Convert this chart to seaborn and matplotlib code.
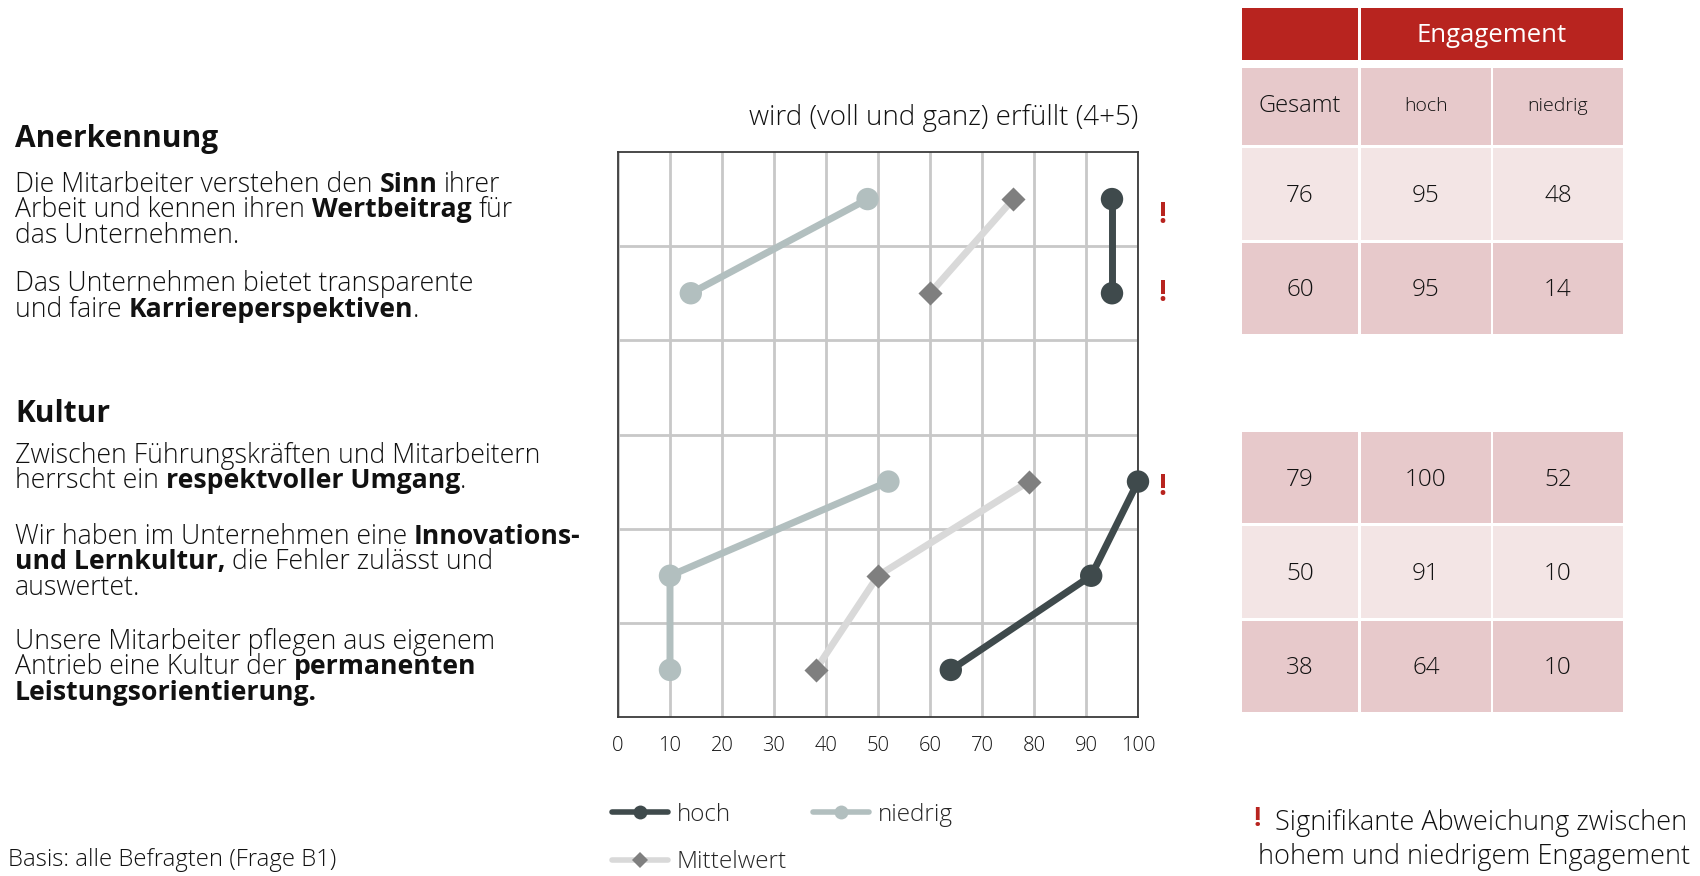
import pandas as pd
import numpy as np
import matplotlib.pyplot as plt
import seaborn as sns
from matplotlib.patches import Rectangle
from matplotlib.lines import Line2D
from matplotlib.font_manager import FontProperties

# data
pos = [0, 1, 3, 4, 5]
block = ['Anerkennung', 'Anerkennung', 'Kultur', 'Kultur', 'Kultur']
gesamt = [76, 60, 79, 50, 38]
hoch = [95, 95, 100, 91, 64]
niedrig = [48, 14, 52, 10, 10]
signifikant = [True, True, True, False, False]
x_ticks = [0, 10, 20, 30, 40, 50, 60, 70, 80, 90, 100]
header_cols = ['Gesamt', 'hoch', 'niedrig']

# left text: (y, [(text, bold)])
headings = [(139, 'Anerkennung'), (414, 'Kultur')]
body = [
    (185, [('Die Mitarbeiter verstehen den ', False), ('Sinn', True), (' ihrer', False)]),
    (210, [('Arbeit und kennen ihren ', False), ('Wertbeitrag', True), (' für', False)]),
    (236, [('das Unternehmen.', False)]),
    (284, [('Das Unternehmen bietet transparente', False)]),
    (310, [('und faire ', False), ('Karriereperspektiven', True), ('.', False)]),
    (456, [('Zwischen Führungskräften und Mitarbeitern', False)]),
    (481, [('herrscht ein ', False), ('respektvoller Umgang', True), ('.', False)]),
    (537, [('Wir haben im Unternehmen eine ', False), ('Innovations-', True)]),
    (562, [('und Lernkultur,', True), (' die Fehler zulässt und', False)]),
    (588, [('auswertet.', False)]),
    (642, [('Unsere Mitarbeiter pflegen aus eigenem', False)]),
    (667, [('Antrieb eine Kultur der ', False), ('permanenten', True)]),
    (693, [('Leistungsorientierung.', True)]),
]

FONT = 'Open Sans'
W = 'light'
DARK = '#3f4a4c'
LIGHT = '#b2bfbf'
MW_LINE = '#d9d9d9'
MW_MARK = '#7f7f7f'
RED = '#b8241f'
PINK = '#e7c9cb'
PALE = '#f3e5e5'
INK = '#111111'

sns.set_style('white')
plt.rcParams['font.family'] = [FONT, 'DejaVu Sans']

rows = []
for name, vals in [('hoch', hoch), ('niedrig', niedrig), ('Mittelwert', gesamt)]:
    for p, b, v in zip(pos, block, vals):
        rows.append({'gruppe': name, 'block': b, 'y': p + 0.5, 'wert': v})
long = pd.DataFrame(rows)

fig = plt.figure(figsize=(17, 8.76), dpi=100)

# overlay in pixel coordinates for text and table
ov = fig.add_axes([0, 0, 1, 1])
ov.set_xlim(0, 1700)
ov.set_ylim(876, 0)
ov.axis('off')

ax = fig.add_axes([618 / 1700, 1 - 717 / 876, 520 / 1700, 565 / 876])
ax.set_zorder(2)

sns.lineplot(data=long, x='wert', y='y', hue='gruppe', units='block', estimator=None, sort=False,
             palette={'hoch': DARK, 'niedrig': LIGHT, 'Mittelwert': MW_LINE},
             linewidth=5, legend=False, ax=ax, zorder=2)
circ = long[long['gruppe'] != 'Mittelwert']
sns.scatterplot(data=circ, x='wert', y='y', hue='gruppe', palette={'hoch': DARK, 'niedrig': LIGHT},
                s=260, linewidth=0, legend=False, clip_on=False, zorder=3, ax=ax)
mw = long[long['gruppe'] == 'Mittelwert']
sns.scatterplot(data=mw, x='wert', y='y', color=MW_MARK, marker='D', s=150, linewidth=0,
                legend=False, clip_on=False, zorder=3, ax=ax)

# exclamation marks sit a little below the row centre in the original
excl_shift = {0: 0.17, 1: 0.0, 3: 0.06}
for p, sig in zip(pos, signifikant):
    if sig:
        ax.text(104.6, p + 0.5 + excl_shift.get(p, 0), '!', color=RED, fontsize=20, fontweight='bold',
                ha='center', va='center', clip_on=False)

ax.set_xlim(0, 100)
ax.set_ylim(6, 0)
ax.set_xticks(x_ticks)
ax.set_xticklabels([str(t) for t in x_ticks], fontsize=14.5, fontweight=W, color=INK)
ax.set_yticks([1, 2, 3, 4, 5])
ax.set_yticklabels([])
ax.tick_params(length=0)
ax.tick_params(axis='x', pad=14)
ax.grid(True, color='#c8c8c8', linewidth=2)
ax.set_xlabel('')
ax.set_ylabel('')
for sp in ax.spines.values():
    sp.set_color('#3a3a3a')
    sp.set_linewidth(1.3)

ov.text(1138, 118, 'wird (voll und ganz) erfüllt (4+5)', fontsize=20, fontweight=W,
        ha='right', va='center', color=INK)

# left text with mixed weights
renderer = fig.canvas.get_renderer()


def text_w(s, weight, size):
    prop = FontProperties(family=FONT, weight=weight, size=size)
    w, h, d = renderer.get_text_width_height_descent(s, prop, ismath=False)
    return w


for y, txt in headings:
    ov.text(15, y, txt, fontsize=21.5, fontweight='bold', va='center', ha='left', color=INK)

BODY = 19.2
space_w = text_w('a a', W, BODY) - text_w('aa', W, BODY)
for y, parts in body:
    x = 15
    for txt, bold in parts:
        wt = 'bold' if bold else W
        x += (len(txt) - len(txt.lstrip(' '))) * space_w
        core = txt.strip(' ')
        ov.text(x, y, core, fontsize=BODY, fontweight=wt, va='center', ha='left', color=INK)
        x += text_w(core, wt, BODY)
        x += (len(txt) - len(txt.rstrip(' '))) * space_w

# table
col_x = [1242, 1361, 1493]
col_w = [116, 130, 130]
ov.add_patch(Rectangle((1242, 8), 116, 52, color=RED, lw=0))
ov.add_patch(Rectangle((1361, 8), 262, 52, color=RED, lw=0))
ov.text(1492, 36, 'Engagement', fontsize=18.5, color='white', ha='center', va='center')
for i, lab in enumerate(header_cols):
    ov.add_patch(Rectangle((col_x[i], 68), col_w[i], 77, color=PINK, lw=0))
    ov.text(col_x[i] + col_w[i] / 2, 106, lab, fontsize=17 if i == 0 else 14, fontweight=W,
            ha='center', va='center', color=INK)

shade = {0: PALE, 1: PINK, 3: PINK, 4: PALE, 5: PINK}
for p, g, h, n in zip(pos, gesamt, hoch, niedrig):
    top = 148 + 94.5 * p
    for i, v in enumerate([g, h, n]):
        ov.add_patch(Rectangle((col_x[i], top), col_w[i], 91.5, color=shade[p], lw=0))
        ov.text(col_x[i] + col_w[i] / 2, top + 48, str(v), fontsize=17.5, fontweight=W,
                ha='center', va='center', color=INK)

# footnotes
ov.text(1257, 819, '!', color=RED, fontsize=19, fontweight='bold', ha='center', va='center')
ov.text(1275, 823, 'Signifikante Abweichung zwischen', fontsize=19.5, fontweight=W,
        ha='left', va='center', color=INK)
ov.text(1258, 857, 'hohem und niedrigem Engagement', fontsize=19.5, fontweight=W,
        ha='left', va='center', color=INK)
ov.text(8, 860, 'Basis: alle Befragten (Frage B1)', fontsize=17.2, fontweight=W,
        ha='left', va='center', color=INK)

# legend
handles = [
    Line2D([], [], color=DARK, lw=4, marker='o', markersize=10, markeredgewidth=0),
    Line2D([], [], color=MW_LINE, lw=4, marker='D', markersize=8, markerfacecolor=MW_MARK,
           markeredgewidth=0),
    Line2D([], [], color=LIGHT, lw=4, marker='o', markersize=10, markeredgewidth=0),
]
leg = fig.legend(handles, ['hoch', 'Mittelwert', 'niedrig'], ncol=2, loc='upper left',
                 bbox_to_anchor=(612 / 1700, 1 - 803 / 876), frameon=False,
                 borderpad=0, borderaxespad=0, handlelength=2.3, handletextpad=0.35,
                 columnspacing=1.1, labelspacing=0.95,
                 prop=FontProperties(family=FONT, weight=W, size=17.5))

fig.savefig('out.png', dpi=100)
